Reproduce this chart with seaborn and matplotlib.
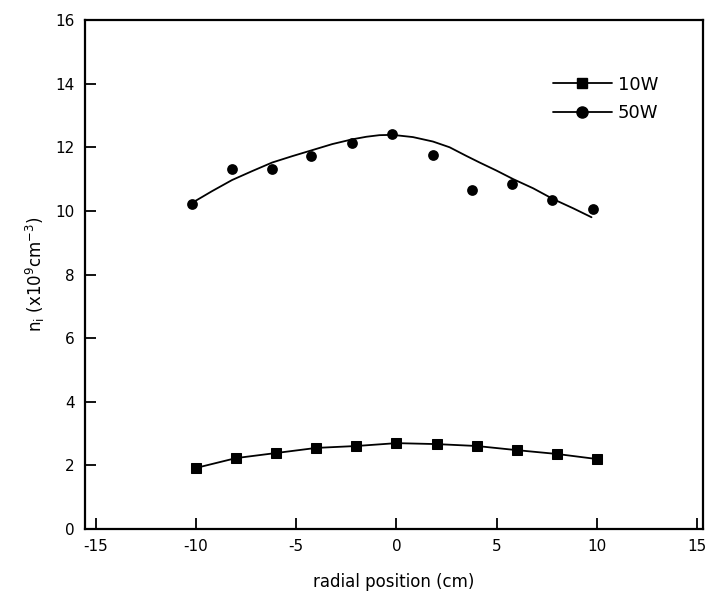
import matplotlib
matplotlib.use("Agg")
import matplotlib.pyplot as plt
from matplotlib.lines import Line2D
import seaborn as sns
import pandas as pd

# 10W measurements (squares)
x_10w = [-10, -8, -6, -4, -2, 0, 2, 4, 6, 8, 10]
n_10w = [1.92, 2.23, 2.39, 2.55, 2.61, 2.70, 2.67, 2.61, 2.48, 2.36, 2.20]

# 50W measurements (circles)
x_50w = [-10.2, -8.2, -6.2, -4.25, -2.2, -0.2, 1.8, 3.75, 5.75, 7.75, 9.8]
n_50w = [10.22, 11.33, 11.33, 11.72, 12.12, 12.43, 11.75, 10.65, 10.86, 10.35, 10.05]

# 50W fitted curve
fit_x = [-10.2, -9.2, -8.2, -7.2, -6.2, -5.2, -4.25, -3.2, -2.2, -1.5, -0.85, -0.2,
         0.82, 1.82, 2.65, 3.48, 4.15, 4.98, 5.82, 6.82, 7.82, 8.82, 9.73]
fit_y = [10.25, 10.62, 10.97, 11.25, 11.52, 11.72, 11.90, 12.10, 12.25, 12.33, 12.38, 12.39,
         12.32, 12.18, 12.00, 11.73, 11.52, 11.27, 11.00, 10.71, 10.37, 10.08, 9.80]

xticks = [-15, -10, -5, 0, 5, 10, 15]
yticks = [0, 2, 4, 6, 8, 10, 12, 14, 16]

sns.set_theme(style="ticks")
plt.rcParams['font.family'] = ['DejaVu Sans']
plt.rcParams['text.color'] = 'black'
plt.rcParams['axes.labelcolor'] = 'black'

fig = plt.figure(figsize=(7.06, 6.06), dpi=100)
ax = fig.add_axes([0.120, 0.127, 0.876, 0.840])

df10 = pd.DataFrame({"x": x_10w, "n": n_10w})
df50 = pd.DataFrame({"x": x_50w, "n": n_50w})
dff = pd.DataFrame({"x": fit_x, "n": fit_y})

sns.lineplot(data=df10, x="x", y="n", ax=ax, color="black", linewidth=1.3,
             marker="s", markersize=7, markeredgecolor="black", sort=False)
sns.lineplot(data=dff, x="x", y="n", ax=ax, color="black", linewidth=1.3, sort=False)
sns.scatterplot(data=df50, x="x", y="n", ax=ax, color="black", marker="o", s=60,
                edgecolor="black", linewidth=0)

ax.set_xlim(-15.55, 15.3)
ax.set_ylim(0, 16)
ax.set_xticks(xticks)
ax.set_yticks(yticks)
ax.set_xticklabels([str(t) for t in xticks])
ax.set_yticklabels([str(t) for t in yticks])
ax.tick_params(direction="in", length=8, width=1.3, labelsize=11, colors="black", pad=7)

for s in ax.spines.values():
    s.set_visible(True)
    s.set_linewidth(1.6)
    s.set_color("black")

ax.set_xlabel("radial position (cm)", fontsize=12, labelpad=14, color="black")
ax.set_ylabel(r"n$_\mathregular{i}$ (x10$^\mathregular{9}$cm$^\mathregular{-3}$)",
              fontsize=12, labelpad=6, color="black")

handles = [Line2D([], [], color="black", linewidth=1.3, marker="s", markersize=7),
           Line2D([], [], color="black", linewidth=1.3, marker="o", markersize=8)]
leg = ax.legend(handles, ["10W", "50W"], loc="upper left", bbox_to_anchor=(0.745, 0.905),
                frameon=False, fontsize=13, handlelength=3.3, handletextpad=0.3,
                labelspacing=0.6, borderaxespad=0)
for t in leg.get_texts():
    t.set_color("black")

fig.savefig("out.png", dpi=100)
